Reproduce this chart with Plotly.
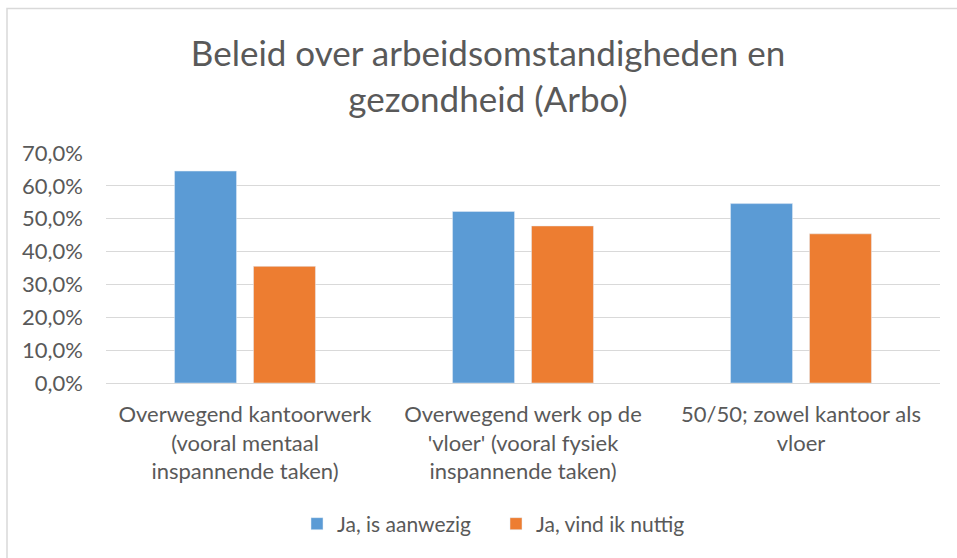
import plotly.graph_objects as go

categories = [
    "Overwegend kantoorwerk<br>(vooral mentaal<br>inspannende taken)",
    "Overwegend werk op de<br>'vloer' (vooral fysiek<br>inspannende taken)",
    "50/50; zowel kantoor als<br>vloer",
]
series_names = ["Ja, is aanwezig", "Ja, vind ik nuttig"]
aanwezig = [64.5, 52.2, 54.6]
nuttig = [35.5, 47.8, 45.4]
tick_vals = [0, 10, 20, 30, 40, 50, 60, 70]
tick_text = ["0,0%", "10,0%", "20,0%", "30,0%", "40,0%", "50,0%", "60,0%", "70,0%"]
title_text = "Beleid over arbeidsomstandigheden en<br>gezondheid (Arbo)"

W, H = 957, 558
L, R, T, B = 106, 17, 153, 175
FONT = "Lato"
GRAY = "#595959"

fig = go.Figure()
fig.add_trace(go.Bar(x=categories, y=aanwezig, name=series_names[0], marker=dict(color="#5B9BD5")))
fig.add_trace(go.Bar(x=categories, y=nuttig, name=series_names[1], marker=dict(color="#ED7D31")))

pw = W - L - R
ph = H - T - B
def px_x(p):
    return (p - L) / pw
def px_y(p):
    return (H - B - p) / ph

fig.update_layout(
    width=W, height=H,
    margin=dict(l=L, r=R, t=T, b=B, autoexpand=False),
    paper_bgcolor="white", plot_bgcolor="white",
    font=dict(family=FONT, color=GRAY, size=22),
    title=dict(text=title_text, x=488 / W, xanchor="center", xref="container",
               y=1 - 66 / H, yanchor="middle", yref="container",
               font=dict(family=FONT, size=35, color=GRAY)),
    barmode="group", bargap=0.432, bargroupgap=0.215,
    showlegend=True,
    legend=dict(orientation="h", x=496 / W, xanchor="center", xref="container",
                y=1 - 524 / H, yanchor="middle", yref="container",
                font=dict(family=FONT, size=21, color=GRAY),
                itemwidth=30, traceorder="normal", entrywidth=154),
    xaxis=dict(showline=False, ticks="", tickfont=dict(family=FONT, size=22, color=GRAY),
               tickangle=0, automargin=False, ticklabelstandoff=16),
    yaxis=dict(range=[0, 70], tickvals=tick_vals, ticktext=tick_text, showgrid=True,
               gridcolor="#D9D9D9", gridwidth=1, zeroline=True, zerolinecolor="#D9D9D9",
               zerolinewidth=1, showline=False, ticks="", ticklabelstandoff=22,
               tickfont=dict(family=FONT, size=22, color=GRAY), automargin=False),
    shapes=[dict(type="rect", xref="paper", yref="paper",
                 x0=px_x(7), x1=px_x(W + 10), y0=px_y(H + 10), y1=px_y(8.5),
                 line=dict(color="#D9D9D9", width=1.5), fillcolor="rgba(0,0,0,0)", layer="below")],
)

fig.write_html("out.html", config={"displayModeBar": False},
               post_script="document.body.style.margin='0';")
